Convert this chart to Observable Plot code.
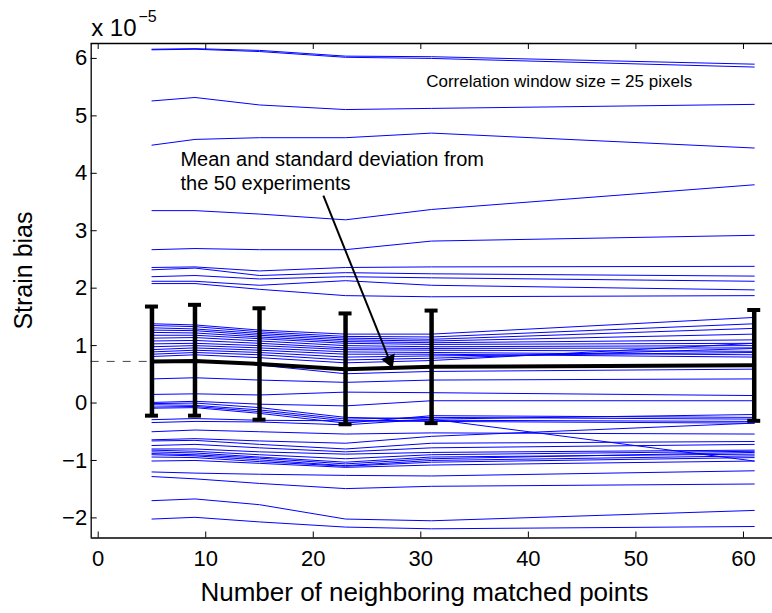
<!DOCTYPE html>
<html><head><meta charset="utf-8">
<script src="https://cdn.jsdelivr.net/npm/d3@7"></script>
<script src="https://cdn.jsdelivr.net/npm/@observablehq/plot@0.6"></script>
<style>body{margin:0;background:#fff}</style>
</head><body><div id="chart"></div>
<script>
// x positions: number of neighboring matched points
const neighbors = [5, 9, 15, 23, 31, 61];

// 50 experiments: strain bias (x 1e-5) at each neighbor count
const experiments = [
  [6.16, 6.17, 6.14, 6.04, 6.03, 5.90],
  [6.15, 6.16, 6.12, 6.02, 6.00, 5.85],
  [5.26, 5.32, 5.19, 5.11, 5.13, 5.20],
  [4.49, 4.59, 4.62, 4.62, 4.70, 4.44],
  [3.35, 3.35, 3.29, 3.19, 3.37, 3.80],
  [2.67, 2.69, 2.67, 2.67, 2.82, 2.92],
  [2.36, 2.37, 2.30, 2.36, 2.37, 2.38],
  [2.32, 2.35, 2.22, 2.27, 2.25, 2.21],
  [2.20, 2.22, 2.16, 2.20, 2.18, 2.12],
  [2.12, 2.12, 2.05, 2.13, 2.05, 1.97],
  [2.08, 2.08, 1.98, 1.87, 1.85, 1.87],
  [1.38, 1.36, 1.27, 1.20, 1.20, 1.49],
  [1.35, 1.33, 1.24, 1.16, 1.15, 1.38],
  [1.31, 1.29, 1.21, 1.13, 1.11, 1.30],
  [1.27, 1.26, 1.18, 1.10, 1.08, 1.20],
  [1.23, 1.22, 1.15, 1.07, 1.05, 1.10],
  [1.18, 1.18, 1.12, 1.04, 1.02, 1.04],
  [1.13, 1.14, 1.08, 1.00, 0.98, 1.00],
  [1.08, 1.09, 1.04, 0.96, 0.95, 0.96],
  [1.03, 1.04, 1.00, 0.93, 0.92, 0.90],
  [0.98, 1.00, 0.96, 0.89, 0.88, 0.84],
  [0.93, 0.96, 0.92, 0.85, 0.85, 0.80],
  [0.89, 0.92, 0.88, 0.80, 0.82, 0.88],
  [0.85, 0.88, 0.84, 0.75, 0.78, 0.95],
  [0.81, 0.84, 0.79, 0.70, 0.74, 1.04],
  [0.72, 0.75, 0.66, 0.51, 0.55, 0.59],
  [0.42, 0.44, 0.40, 0.36, 0.40, 0.42],
  [0.15, 0.16, 0.14, 0.19, 0.18, 0.13],
  [0.01, 0.03, -0.02, -0.05, 0.04, 0.04],
  [-0.01, 0.00, -0.08, -0.25, -0.28, -0.20],
  [-0.03, -0.04, -0.12, -0.28, -0.25, -0.28],
  [-0.07, -0.06, -0.15, -0.31, -0.30, -0.32],
  [-0.09, -0.08, -0.18, -0.35, -0.22, -0.25],
  [-0.29, -0.27, -0.30, -0.31, -0.32, -0.35],
  [-0.34, -0.32, -0.33, -0.38, -0.28, -1.01],
  [-0.50, -0.47, -0.50, -0.54, -0.52, -0.54],
  [-0.64, -0.62, -0.66, -0.70, -0.58, -0.35],
  [-0.66, -0.65, -0.72, -0.80, -0.70, -0.67],
  [-0.74, -0.72, -0.78, -0.85, -0.78, -0.72],
  [-0.80, -0.80, -0.85, -0.89, -0.86, -0.82],
  [-0.82, -0.84, -0.90, -0.97, -0.90, -0.84],
  [-0.85, -0.87, -0.94, -1.03, -0.94, -0.89],
  [-0.88, -0.90, -0.96, -1.06, -0.97, -0.86],
  [-0.90, -0.92, -0.99, -1.09, -1.00, -0.92],
  [-0.94, -0.95, -1.02, -1.10, -1.03, -0.95],
  [-1.01, -1.00, -1.05, -1.12, -1.08, -1.01],
  [-1.20, -1.22, -1.24, -1.26, -1.27, -1.18],
  [-1.28, -1.32, -1.40, -1.49, -1.45, -1.41],
  [-1.70, -1.67, -1.77, -2.02, -2.05, -1.87],
  [-2.02, -1.99, -2.07, -2.16, -2.19, -2.15]
];

// mean and +/- one standard deviation
const meanBias = [0.725, 0.73, 0.68, 0.59, 0.63, 0.66];
const stdUpper = [1.68, 1.71, 1.65, 1.56, 1.61, 1.62];
const stdLower = [-0.22, -0.22, -0.29, -0.37, -0.35, -0.31];

const xTicks = [0, 10, 20, 30, 40, 50, 60];
const yTicks = [-2, -1, 0, 1, 2, 3, 4, 5, 6];
const xDomain = [-0.65, 62.7];
const yDomain = [-2.35, 6.26];

// annotation anchors (data coordinates)
const corrLabel = {x: 30.5, y: 5.60, text: "Correlation window size = 25 pixels"};
const meanLabel = {x: 7.65, y: 4.05, text: "Mean and standard deviation from\nthe 50 experiments"};
const arrowFrom = {x: 20.94, y: 3.61};
const arrowTo = {x: 27.09, y: 0.743};
const expLabel = {x: -0.65, y: 6.516, text: "x 10"};
const expSup = {x: 3.75, y: 6.72, text: "\u22125"};
const yTitle = {x: -6.92, y: 2.307, text: "Strain bias"};
const xTitle = {x: 30.34, y: -3.308, text: "Number of neighboring matched points"};

const lineData = experiments.flatMap((vals, k) => vals.map((v, i) => ({run: k, x: neighbors[i], y: v})));
const stats = neighbors.map((x, i) => ({x, mean: meanBias[i], hi: stdUpper[i], lo: stdLower[i]}));

const W = 772, H = 613, mL = 90.7, mR = 0, mT = 43, mB = 75.5;
const innerW = W - mL - mR, innerH = H - mT - mB;
const font = "Helvetica, Arial, 'Liberation Sans', sans-serif";

const chart = Plot.plot({
  width: W, height: H,
  marginLeft: mL, marginRight: mR, marginTop: mT, marginBottom: mB,
  style: {fontFamily: font, background: "#fff", color: "#000"},
  x: {domain: xDomain},
  y: {domain: yDomain},
  marks: [
    Plot.line(lineData, {x: "x", y: "y", z: "run", stroke: "#0000ff", strokeWidth: 1}),
    Plot.ruleY([meanBias[0]], {x1: xDomain[0], x2: neighbors[0], stroke: "#444", strokeWidth: 1, strokeDasharray: "8,8"}),
    Plot.line(stats, {x: "x", y: "mean", stroke: "#000", strokeWidth: 4}),
    Plot.ruleX(stats, {x: "x", y1: "lo", y2: "hi", stroke: "#000", strokeWidth: 4.5}),
    Plot.ruleY(stats, {y: "hi", x1: "x", x2: "x", insetLeft: -6.5, insetRight: -6.5, stroke: "#000", strokeWidth: 4}),
    Plot.ruleY(stats, {y: "lo", x1: "x", x2: "x", insetLeft: -6.5, insetRight: -6.5, stroke: "#000", strokeWidth: 4}),
    // axes box (top, bottom, left)
    Plot.ruleY([yDomain[0], yDomain[1]], {stroke: "#000", strokeWidth: 1.3}),
    Plot.ruleX([xDomain[0]], {stroke: "#000", strokeWidth: 1.3}),
    // inward ticks
    Plot.ruleX(xTicks, {insetTop: innerH - 6, stroke: "#000", strokeWidth: 1}),
    Plot.ruleX(xTicks, {insetBottom: innerH - 6, stroke: "#000", strokeWidth: 1}),
    Plot.ruleY(yTicks, {insetRight: innerW - 6, stroke: "#000", strokeWidth: 1}),
    Plot.axisX({ticks: xTicks, tickSize: 0, tickPadding: 12, fontSize: 22, label: null}),
    Plot.axisY({ticks: yTicks, tickSize: 0, tickPadding: 4, fontSize: 22, label: null}),
    // titles
    Plot.text([xTitle], {x: "x", y: "y", text: "text", fontSize: 26, textAnchor: "middle"}),
    Plot.text([yTitle], {x: "x", y: "y", text: "text", fontSize: 25, rotate: -90, textAnchor: "middle"}),
    Plot.text([expLabel], {x: "x", y: "y", text: "text", fontSize: 24, textAnchor: "start"}),
    Plot.text([expSup], {x: "x", y: "y", text: "text", fontSize: 16, textAnchor: "start"}),
    // annotations
    Plot.text([corrLabel], {x: "x", y: "y", text: "text", fontSize: 17, textAnchor: "start"}),
    Plot.text([meanLabel], {x: "x", y: "y", text: "text", fontSize: 20, textAnchor: "start", lineHeight: 1.2}),
    Plot.link([{x1: arrowFrom.x, y1: arrowFrom.y, x2: arrowTo.x, y2: arrowTo.y}], {x1: "x1", y1: "y1", x2: "x2", y2: "y2", stroke: "#000", strokeWidth: 2}),
    Plot.dot([arrowTo], {x: "x", y: "y", symbol: "triangle", r: 5.5, fill: "#000", stroke: "none", rotate: 158})
  ]
});
document.getElementById("chart").appendChild(chart);
</script>
</body></html>
